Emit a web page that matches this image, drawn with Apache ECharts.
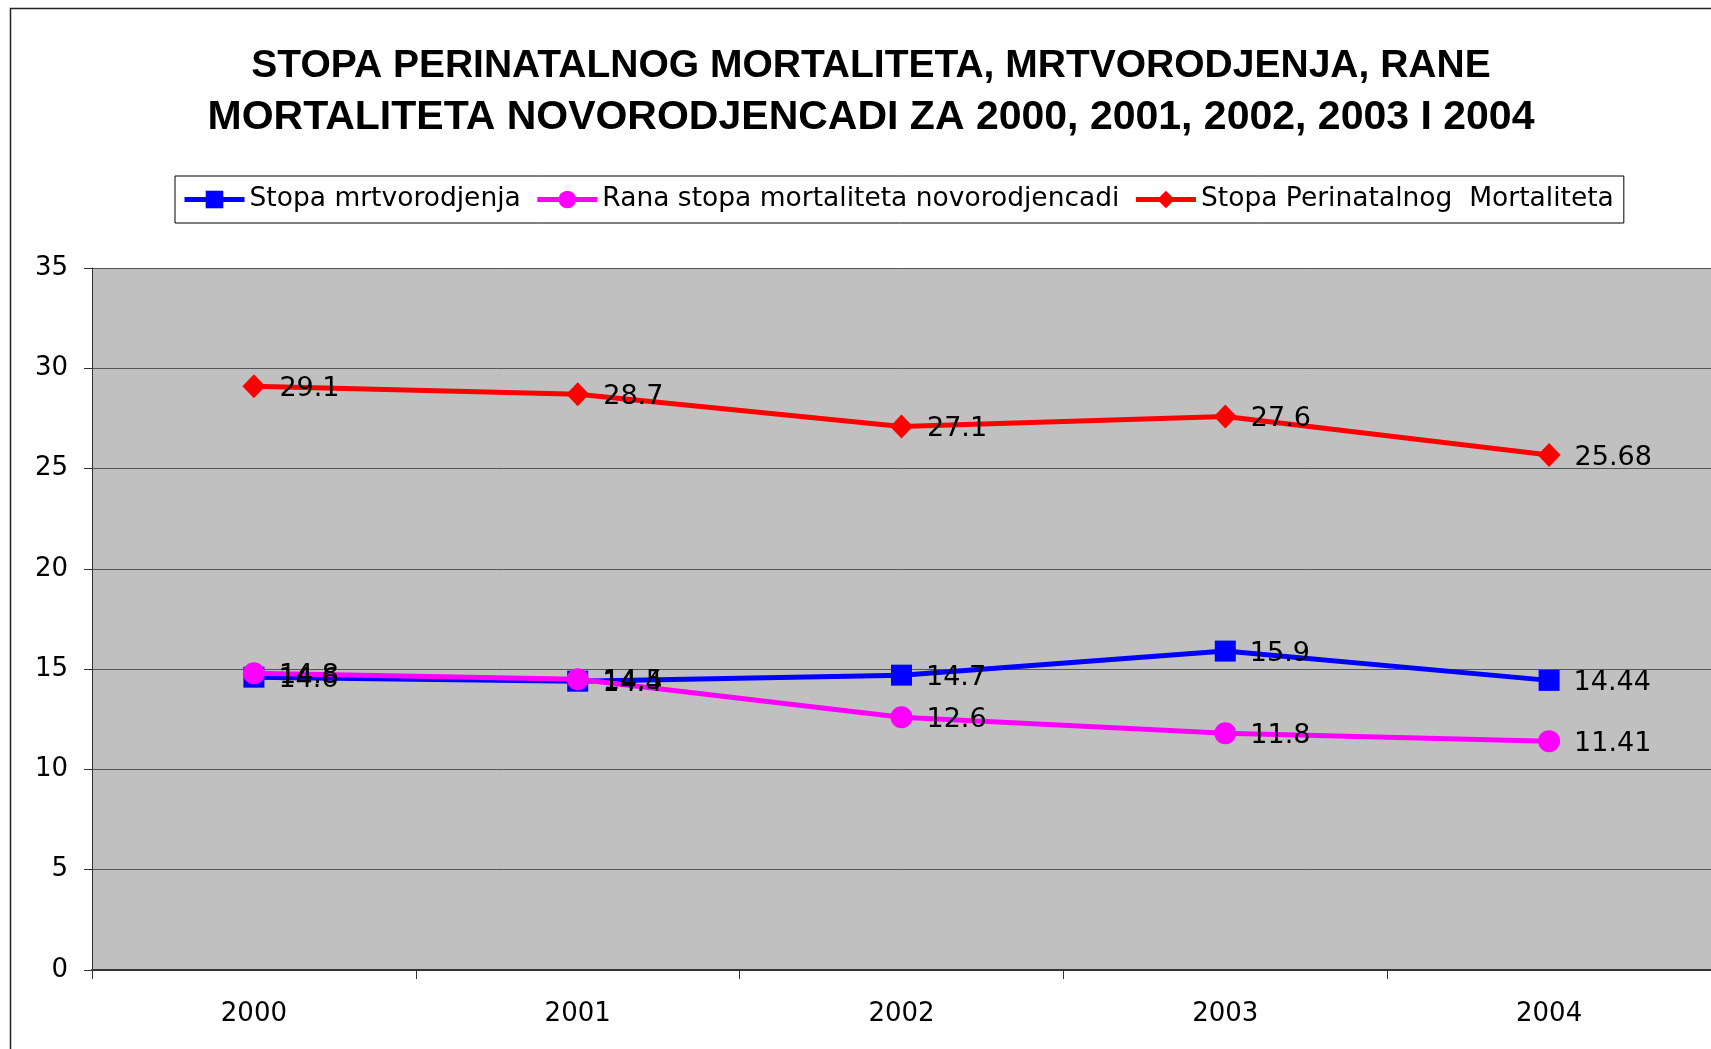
<!DOCTYPE html>
<html>
<head>
<meta charset="utf-8">
<script src="https://cdn.jsdelivr.net/npm/echarts@6/dist/echarts.min.js"></script>
<style>html,body{margin:0;padding:0;background:#fff;}#c{width:1711px;height:1049px;}</style>
</head>
<body>
<div id="c"></div>
<script>
var years = ['2000', '2001', '2002', '2003', '2004'];
var mrtvorodjenja = [14.6, 14.4, 14.7, 15.9, 14.44];
var ranaStopa = [14.8, 14.5, 12.6, 11.8, 11.41];
var perinatalni = [29.1, 28.7, 27.1, 27.6, 25.68];
var yTicks = [0, 5, 10, 15, 20, 25, 30, 35];
var titleLine1 = 'STOPA PERINATALNOG MORTALITETA, MRTVORODJENJA, RANE';
var titleLine2 = 'MORTALITETA NOVORODJENCADI ZA 2000, 2001, 2002, 2003 I 2004';

var chart = echarts.init(document.getElementById('c'));
var lbl = {show: true, position: 'right', distance: 14, offset: [0, 3], color: '#000', fontSize: 27, fontFamily: 'DejaVu Sans'};
chart.setOption({
  animation: false,
  backgroundColor: '#fff',
  graphic: [{type: 'rect', shape: {x: 10.5, y: 8.5, width: 1760, height: 1100}, style: {fill: 'none', stroke: '#222', lineWidth: 1.5}, z: 100}],
  title: {
    text: '{a|' + titleLine1 + '}\n{b|' + titleLine2 + '}',
    left: 871, top: 41, textAlign: 'center', padding: 0,
    textStyle: {
      fontFamily: 'Liberation Sans', fontWeight: 'bold', fontSize: 39, lineHeight: 51, color: '#000',
      rich: {
        a: {fontFamily: 'Liberation Sans', fontWeight: 'bold', fontSize: 39, lineHeight: 51, color: '#000'},
        b: {fontFamily: 'Liberation Sans', fontWeight: 'bold', fontSize: 41, lineHeight: 51, color: '#000'}
      }
    }
  },
  legend: {
    left: 175, top: 176, padding: [10, 10, 10, 7], itemGap: 14, itemWidth: 60, itemHeight: 22,
    borderColor: '#000', borderWidth: 1, backgroundColor: '#fff',
    lineStyle: {width: 5},
    textStyle: {fontFamily: 'DejaVu Sans', fontSize: 26.5, color: '#000'},
    data: ['Stopa mrtvorodjenja', 'Rana stopa mortaliteta novorodjencadi', 'Stopa Perinatalnog  Mortaliteta']
  },
  grid: {left: 92, top: 268, right: 0, bottom: 79, show: true, backgroundColor: '#C0C0C0', borderWidth: 0},
  xAxis: {
    type: 'category', data: years, boundaryGap: true,
    axisLine: {lineStyle: {color: '#333', width: 2}},
    axisTick: {show: true, length: 9, lineStyle: {color: '#333'}},
    axisLabel: {margin: 31, fontSize: 26, color: '#000', fontFamily: 'DejaVu Sans'},
    splitLine: {show: false}
  },
  yAxis: {
    type: 'value', min: yTicks[0], max: yTicks[yTicks.length - 1], interval: 5,
    axisLine: {show: true, lineStyle: {color: '#333', width: 1}},
    axisTick: {show: true, length: 8, lineStyle: {color: '#333'}},
    axisLabel: {margin: 24, fontSize: 26, color: '#000', fontFamily: 'DejaVu Sans'},
    splitLine: {show: true, lineStyle: {color: '#555', width: 1}}
  },
  series: [
    {name: 'Stopa mrtvorodjenja', type: 'line', data: mrtvorodjenja, symbol: 'rect', symbolSize: 21,
     lineStyle: {color: '#0000FF', width: 5}, itemStyle: {color: '#0000FF'}, label: lbl},
    {name: 'Rana stopa mortaliteta novorodjencadi', type: 'line', data: ranaStopa, symbol: 'circle', symbolSize: 22,
     lineStyle: {color: '#FF00FF', width: 5}, itemStyle: {color: '#FF00FF'}, label: lbl},
    {name: 'Stopa Perinatalnog  Mortaliteta', type: 'line', data: perinatalni, symbol: 'diamond', symbolSize: [23, 24],
     lineStyle: {color: '#FF0000', width: 5}, itemStyle: {color: '#FF0000'}, label: lbl}
  ]
});
</script>
</body>
</html>
